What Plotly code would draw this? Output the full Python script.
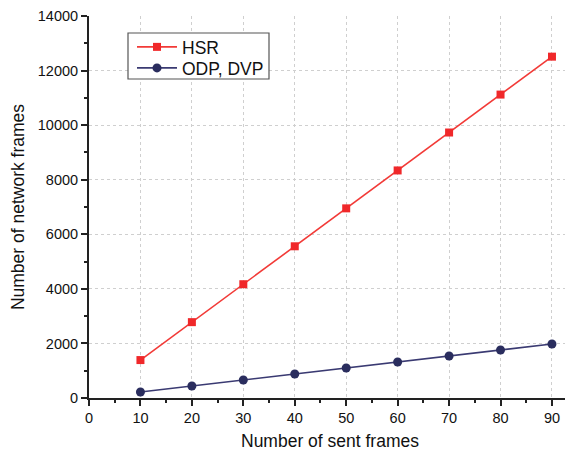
import plotly.graph_objects as go

sent_frames = [10, 20, 30, 40, 50, 60, 70, 80, 90]
hsr = [1390, 2780, 4170, 5560, 6950, 8340, 9730, 11120, 12510]
odp_dvp = [220, 440, 660, 880, 1100, 1320, 1540, 1760, 1980]

fig = go.Figure()
fig.add_trace(go.Scatter(
    x=sent_frames, y=hsr, name="HSR", mode="lines+markers",
    line=dict(color="#f23a37", width=1.6),
    marker=dict(symbol="square", size=8, color="#f0282a"),
    legend="legend", showlegend=True,
))
fig.add_trace(go.Scatter(
    x=sent_frames, y=odp_dvp, name="ODP, DVP", mode="lines+markers",
    line=dict(color="#3a3a72", width=1.6),
    marker=dict(symbol="circle", size=9, color="#2a2d5e"),
    legend="legend2", showlegend=True,
))

font_family = "Liberation Sans, Arial, sans-serif"
axis_font = dict(family=font_family, size=14.5, color="#111")

def legend_box(ytop):
    return dict(
        x=(132 - 89) / 482, y=(398 - ytop) / 382, xanchor="left", yanchor="top",
        borderwidth=0, bgcolor="rgba(0,0,0,0)", itemwidth=40,
        font=dict(size=17.5, color="#111"),
    )

# page body has an 8px margin; figure sized so the plot area lands where the reference's is
fig.update_layout(
    width=565, height=443,
    margin=dict(l=81, r=2, t=8, b=53),
    paper_bgcolor="white", plot_bgcolor="white",
    font=dict(family=font_family, color="#111"),
    showlegend=True,
    legend=legend_box(29),
    legend2=legend_box(50),
    shapes=[dict(
        type="rect", xref="paper", yref="paper",
        x0=(128 - 89) / 482, x1=(269 - 89) / 482,
        y0=(398 - 79) / 382, y1=(398 - 33) / 382,
        line=dict(color="#555", width=1.2), fillcolor="white", layer="above",
    )],
    xaxis=dict(
        range=[0, 93.7], tickmode="linear", tick0=0, dtick=10,
        ticks="outside", ticklen=6, tickwidth=1.5, tickcolor="#222",
        showline=True, linecolor="#222", linewidth=2,
        showgrid=True, gridcolor="#cfcfcf", griddash="3px,3px", gridwidth=1,
        zeroline=False, tickfont=axis_font, automargin=False, tickformat="d",
        minor=dict(ticks="outside", ticklen=3, dtick=5, tickcolor="#222", showgrid=False),
        title=dict(text="Number of sent frames", font=dict(size=17.5), standoff=17),
    ),
    yaxis=dict(
        range=[0, 14000], tickmode="linear", tick0=0, dtick=2000,
        ticks="outside", ticklen=6, tickwidth=1.5, tickcolor="#222",
        showline=True, linecolor="#222", linewidth=2,
        showgrid=True, gridcolor="#cfcfcf", griddash="3px,3px", gridwidth=1,
        zeroline=False, tickfont=axis_font, automargin=False, tickformat="d",
        minor=dict(ticks="outside", ticklen=3, dtick=1000, tickcolor="#222", showgrid=False),
        title=dict(text="Number of network frames", font=dict(size=17.5), standoff=10),
    ),
)

fig.write_html("out.html")
